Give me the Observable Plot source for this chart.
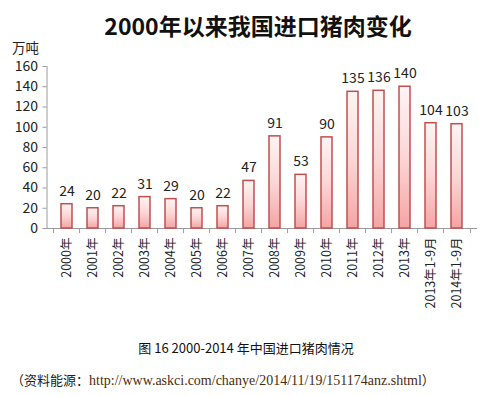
<!DOCTYPE html>
<html>
<head>
<meta charset="utf-8">
<script src="https://cdn.jsdelivr.net/npm/d3@7"></script>
<script src="https://cdn.jsdelivr.net/npm/@observablehq/plot@0.6"></script>
<style>
  html, body { margin: 0; padding: 0; background: #fff; }
  body { width: 487px; height: 396px; position: relative; overflow: hidden; font-family: "Noto Sans CJK SC", sans-serif; }
  #title { position: absolute; left: 0; width: 516px; top: 8px; text-align: center; font-weight: bold; font-size: 23px; line-height: 34px; color: #111; }
  #chart { position: absolute; left: 0; top: 30px; }
  #caption { position: absolute; left: 0; width: 492px; top: 338px; text-align: center; font-size: 13px; line-height: 20px; color: #111; }
  #source { position: absolute; left: 11px; top: 370px; font-size: 13px; line-height: 20px; color: #222; white-space: nowrap; }
  #source .url { font-family: "Liberation Serif", "DejaVu Serif", serif; font-size: 14px; color: #4a2c10; }
</style>
</head>
<body>
<div id="title">2000年以来我国进口猪肉变化</div>
<div id="chart"></div>
<div id="caption">图 16 2000-2014 年中国进口猪肉情况</div>
<div id="source">（资料能源：<span class="url">http://www.askci.com/chanye/2014/11/19/151174anz.shtml</span>）</div>
<script>
const categories = ["2000年","2001年","2002年","2003年","2004年","2005年","2006年","2007年","2008年","2009年","2010年","2011年","2012年","2013年","2013年1-9月","2014年1-9月"];
const values = [24,20,22,31,29,20,22,47,91,53,90,135,136,140,104,103];
const yTicks = [0,20,40,60,80,100,120,140,160];
const unitLabel = "万吨";

const data = categories.map((c, i) => ({cat: c, value: values[i]}));

const W = 487, H = 300, ml = 46.5, mr = 10;
const step = (W - ml - mr) / categories.length;

const chart = Plot.plot({
  width: W,
  height: H,
  marginLeft: ml,
  marginRight: mr,
  marginTop: 36,
  marginBottom: 102,
  style: {fontFamily: "'Noto Sans CJK SC', sans-serif", color: "#222", background: "transparent"},
  x: {domain: categories, paddingInner: 0.58, paddingOuter: 0.29, axis: null},
  y: {domain: [0, 160], axis: null},
  marks: [
    Plot.frame({anchor: "left", stroke: "#9a9a9a"}),
    Plot.ruleY([0], {stroke: "#9a9a9a"}),
    Plot.axisY({ticks: yTicks, tickSize: 4, tickPadding: 5, fontSize: 14, label: null, stroke: "#9a9a9a", fill: "#222"}),
    Plot.axisX({ticks: categories, tickSize: 5, text: null, label: null, dx: -step / 2, stroke: "#9a9a9a"}),
    Plot.axisX({ticks: [categories[categories.length - 1]], tickSize: 5, text: null, label: null, dx: step / 2, stroke: "#9a9a9a"}),
    Plot.axisX({ticks: categories, tickSize: 0, tickPadding: 9, tickRotate: -90, fontSize: 12.5, label: null, fill: "#222"}),
    Plot.barY(data, {x: "cat", y: "value", fill: "url(#barGrad)", stroke: "#c0504d", strokeWidth: 1.5}),
    Plot.text(data, {x: "cat", y: "value", text: d => String(d.value), dy: -13, fontSize: 14, fill: "#222"}),
    Plot.text([unitLabel], {frameAnchor: "top-left", dx: -35, dy: -18, lineAnchor: "middle", fontSize: 13.5, textAnchor: "start", fill: "#222"})
  ]
});

const ns = "http://www.w3.org/2000/svg";
const defs = document.createElementNS(ns, "defs");
defs.innerHTML = `
  <linearGradient id="barGrad" x1="0" y1="0" x2="0" y2="1">
    <stop offset="0" stop-color="#fff4f4"/>
    <stop offset="0.5" stop-color="#fcd6d6"/>
    <stop offset="1" stop-color="#f4a4a4"/>
  </linearGradient>`;
chart.insertBefore(defs, chart.firstChild);
document.getElementById("chart").appendChild(chart);
</script>
</body>
</html>
